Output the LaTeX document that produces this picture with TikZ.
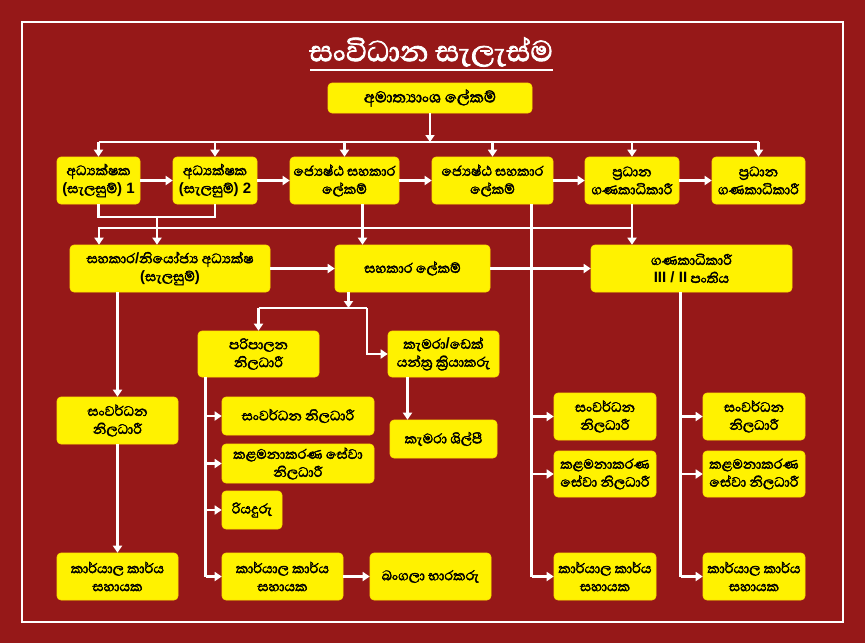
\documentclass[tikz,border=0pt]{standalone}
\usepackage{fontspec}
\newfontfamily\sinhfont[Script=Sinhala, FakeBold=2.2]{Abhaya Libre}
\newfontfamily\latfont{Liberation Sans}
\newcommand\lat[1]{{\latfont\bfseries\fontsize{15}{18}\selectfont #1}}
\usetikzlibrary{arrows.meta}
\definecolor{bgred}{HTML}{961818}
\definecolor{boxyel}{HTML}{FFF200}
\newcommand\mybox[6]{\node[box, minimum width={(#4-#2)*1pt}, minimum height={(#5-#3)*1pt}] (#1) at ({(#2+#4)/2},{(#3+#5)/2}) {#6};}
\begin{document}
\begin{tikzpicture}[x=1pt,y=-1pt,
  box/.style={fill=boxyel, draw=boxyel!85!orange, line width=0.6pt, rounded corners=4pt, align=center,
    font=\sinhfont\fontsize{17.5}{18}\selectfont, inner sep=0pt, text=black},
  ln/.style={draw=white, line width=2.5pt},
  arr/.style={ln, -{Triangle[width=9pt,length=7pt]}},
]
\fill[bgred] (0,0) rectangle (865,643);
\draw[white, line width=2.5pt] (22,22) rectangle (843,622);

\node[font=\sinhfont\fontsize{37}{40}\selectfont, text=white, inner sep=1pt] (title) at (431,52) {සංවිධාන සැලැස්ම};
\draw[white, line width=2pt] (310,70) -- (553,70);

\mybox{top}{328}{83}{532}{113}{\fontsize{20}{20}\selectfont අමාත්^^^^200dයාංශ ලේකම්}
\mybox{d1}{57}{157}{140}{204}{අධ්^^^^200dයක්ෂක\\\lat{(}සැලසුම්\lat{) 1}}
\mybox{d2}{173}{157}{257}{204}{අධ්^^^^200dයක්ෂක\\\lat{(}සැලසුම්\lat{) 2}}
\mybox{d3}{290}{157}{399}{204}{ජ්^^^^200dයෙෂ්ඨ සහකාර\\ලේකම්}
\mybox{d4}{432}{157}{553}{204}{ජ්^^^^200dයෙෂ්ඨ සහකාර\\ලේකම්}
\mybox{d5}{585}{157}{679}{204}{ප්^^^^200dරධාන\\ගණකාධිකාරී}
\mybox{d6}{712}{157}{805}{204}{ප්^^^^200dරධාන\\ගණකාධිකාරී}
\mybox{A}{70}{245}{270}{292}{සහකාර\lat{/}නියෝජ්^^^^200dය අධ්^^^^200dයක්ෂ\\\lat{(}සැලසුම්\lat{)}}
\mybox{B}{335}{245}{490}{292}{සහකාර ලේකම්}
\mybox{G}{591}{245}{792}{292}{ගණකාධිකාරී\\\lat{III / II} පංතිය}
\mybox{L1}{57}{397}{178}{444}{සංවර්ධන\\නිලධාරී}
\mybox{L2}{57}{553}{178}{600}{කාර්යාල කාර්ය\\සහායක}
\mybox{P}{198}{331}{319}{377}{පරිපාලන\\නිලධාරී}
\mybox{K}{388}{331}{499}{377}{කැමරා\lat{/}ඩෙක්\\යන්ත්^^^^200dර ක්^^^^200dරියාකරු}
\mybox{KS}{390}{420}{497}{458}{කැමරා ශිල්පී}
\mybox{M1}{222}{397}{374}{435}{සංවර්ධන නිලධාරී}
\mybox{M2}{222}{444}{374}{483}{කළමනාකරණ සේවා\\නිලධාරී}
\mybox{M3}{222}{491}{282}{529}{රියදුරු}
\mybox{M4}{222}{553}{343}{600}{කාර්යාල කාර්ය\\සහායක}
\mybox{M5}{370}{553}{491}{600}{බංගලා භාරකරු}
\mybox{R1}{554}{393}{656}{440}{සංවර්ධන\\නිලධාරී}
\mybox{R2}{554}{451}{656}{497}{කළමනාකරණ\\සේවා නිලධාරී}
\mybox{R3}{554}{553}{656}{600}{කාර්යාල කාර්ය\\සහායක}
\mybox{S1}{703}{393}{805}{440}{සංවර්ධන\\නිලධාරී}
\mybox{S2}{703}{451}{805}{497}{කළමනාකරණ\\සේවා නිලධාරී}
\mybox{S3}{703}{553}{805}{600}{කාර්යාල කාර්ය\\සහායක}

% top bus
\coordinate (b1) at (0,142);
\draw[arr] (top.south) -- (top.south |- b1);
\draw[ln] (d1.north |- b1) -- (d6.north |- b1);
\foreach \n in {d1,d2,d3,d4,d5,d6} \draw[arr] (\n.north |- b1) -- (\n.north);
% row 1 horizontal
\draw[arr] (d1.east) -- (d2.west);
\draw[arr] (d2.east) -- (d3.west);
\draw[arr] (d3.east) -- (d4.west);
\draw[arr] (d4.east) -- (d5.west);
\draw[arr] (d5.east) -- (d6.west);
% d1,d2 join to A
\coordinate (j1) at (157,217);
\draw[ln] (d1.south) -- (d1.south |- j1) -- (d2.south |- j1) -- (d2.south);
\draw[arr] (j1) -- (j1 |- A.north);
% bus 2 from d5
\coordinate (b2) at (99,228);
\draw[arr] (d5.south) -- (d5.south |- G.north);
\draw[arr] (d5.south |- b2) -- (b2) -- (b2 |- A.north);
% d3 to B
\draw[arr] ([xshift=18pt]d3.south) -- ([xshift=18pt]d3.south |- B.north);
% row 2 horizontal
\draw[arr] (A.east) -- (B.west);
\draw[arr] (B.east) -- (G.west);
% d4 column
\coordinate (v4) at ([xshift=39pt]d4.south);
\draw[ln] (v4) -- (v4 |- R3.west);
\draw[arr] (v4 |- R1.west) -- (R1.west);
\draw[arr] (v4 |- R2.west) -- (R2.west);
\draw[arr] (v4 |- R3.west) -- (R3.west);
% G column
\coordinate (vg) at ([xshift=-11pt]G.south);
\draw[ln] (vg) -- (vg |- S3.west);
\draw[arr] (vg |- S1.west) -- (S1.west);
\draw[arr] (vg |- S2.west) -- (S2.west);
\draw[arr] (vg |- S3.west) -- (S3.west);
% A column
\draw[arr] (L1.north |- A.south) -- (L1.north);
\draw[arr] (L1.south) -- (L2.north);
% B to P and K
\coordinate (vb) at ([xshift=-64pt]B.south);
\coordinate (b3) at (0,308);
\draw[arr] (vb) -- (vb |- b3);
\coordinate (kx) at (367,308);
\draw[ln] (P.north |- b3) -- (kx);
\draw[arr] (P.north |- b3) -- (P.north);
\draw[arr] (kx) -- (kx |- K.west) -- (K.west);
\draw[arr] ([xshift=-36pt]K.south) -- ([xshift=-36pt]K.south |- KS.north);
% P column
\coordinate (vp) at ([xshift=-53pt]P.south);
\draw[ln] (vp) -- (vp |- M4.west);
\draw[arr] (vp |- M1.west) -- (M1.west);
\draw[arr] (vp |- M2.west) -- (M2.west);
\draw[arr] (vp |- M3.west) -- (M3.west);
\draw[arr] (vp |- M4.west) -- (M4.west);
\draw[arr] (M4.east) -- (M5.west);
\end{tikzpicture}
\end{document}
